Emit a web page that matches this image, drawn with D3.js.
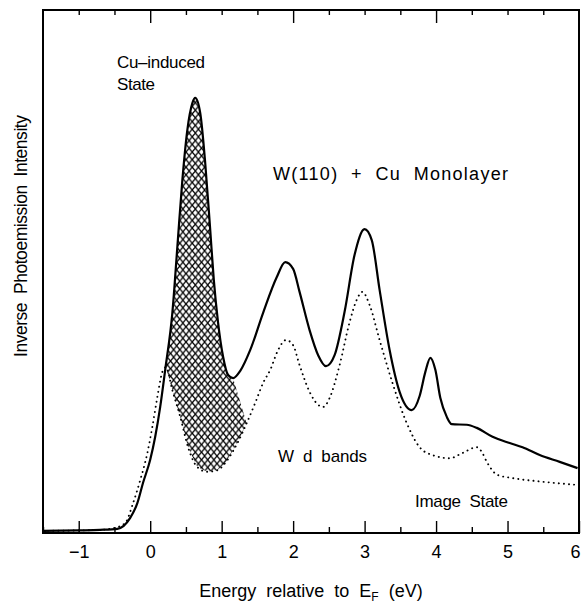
<!DOCTYPE html>
<html><head><meta charset="utf-8">
<script src="https://cdn.jsdelivr.net/npm/d3@7"></script>
<style>
body{margin:0;background:#fff}
text{font-family:"Liberation Sans",Arial,sans-serif;fill:#000;white-space:pre}
</style></head>
<body><svg id="c" width="582" height="603"></svg>
<script>
// Cu monolayer spectrum (solid)
const solidE = [-1.5,-1.0,-0.70,-0.46,-0.28,-0.18,-0.10,0.00,0.07,0.14,0.21,0.31,0.38,0.45,0.52,0.59,0.63,0.70,0.77,0.84,0.89,0.95,1.02,1.09,1.16,1.26,1.40,1.58,1.77,1.89,2.00,2.09,2.23,2.35,2.46,2.58,2.72,2.86,3.00,3.10,3.21,3.35,3.49,3.66,3.77,3.85,3.92,3.99,4.06,4.15,4.22,4.43,4.57,4.79,5.03,5.21,5.45,5.73,5.98];
const solidI = [0.4,0.5,0.6,0.8,2.9,5.7,9.6,14.0,18.4,24.1,31.2,42.1,54.7,67.5,77.1,82.2,83.2,80.3,70.7,57.9,48.4,40.2,33.7,30.2,29.6,31.0,35.0,42.1,48.9,51.8,50.5,46.1,38.8,34.0,31.9,34.0,42.3,53.2,58.1,56.0,46.5,35.0,27.0,23.5,26.2,30.8,33.5,31.2,25.8,22.2,20.8,20.7,20.1,18.4,17.2,16.4,14.9,13.6,12.4];
// clean W(110) spectrum (dotted)
const dottedE = [-1.5,-0.70,-0.49,-0.35,-0.24,-0.14,-0.04,0.03,0.10,0.17,0.22,0.31,0.42,0.53,0.66,0.80,0.94,1.05,1.22,1.35,1.47,1.58,1.68,1.79,1.90,2.00,2.09,2.23,2.35,2.42,2.51,2.65,2.79,2.89,2.97,3.07,3.21,3.39,3.59,3.77,3.95,4.19,4.37,4.57,4.64,4.71,4.86,5.07,5.49,5.98];
const dottedI = [0.4,0.6,1.0,1.9,5.7,10.1,15.3,20.3,26.0,30.8,31.7,27.3,22.2,16.4,12.6,11.7,12.0,13.4,17.2,21.0,24.9,28.7,31.2,35.0,36.9,35.9,32.1,27.0,24.5,24.1,25.8,32.1,40.3,44.6,46.1,43.6,36.9,28.7,21.0,16.4,14.9,14.3,15.3,16.4,15.5,13.6,11.1,10.5,9.8,9.2];
// hatched Cu-induced state region
const hatchSolidRange = [0.21, 1.16];
const hatchDottedRange = [0.22, 1.35];
const majorTicks = [-1,0,1,2,3,4,5,6];
const minorTicks = [-1.5,-0.5,0.5,1.5,2.5,3.5,4.5,5.5];
const topMajorTicks = [0,2,4];
const topMinorTicks = [-1,-0.5,0.5,1,1.5,2.5,3,3.5,4.5,5,5.5];
const tickLabels = ["\u22121","0","1","2","3","4","5","6"];

const svg = d3.select("#c");
const x = d3.scaleLinear().domain([-1.5,6]).range([43,579]);
const y = d3.scaleLinear().domain([0,100]).range([533,10]);

const defs = svg.append("defs");
const pat = defs.append("pattern").attr("id","hatch").attr("patternUnits","userSpaceOnUse")
  .attr("width",6.2).attr("height",7.6);
pat.append("path").attr("d","M-3.1,-3.8L9.3,11.4M9.3,-3.8L-3.1,11.4")
  .attr("stroke","#000").attr("stroke-width",1.35).attr("fill","none");

const solid = solidE.map((e,i)=>[e,solidI[i]]);
const dotted = dottedE.map((e,i)=>[e,dottedI[i]]);
const line = d3.line().x(d=>x(d[0])).y(d=>y(d[1])).curve(d3.curveMonotoneX);

// hatch polygon
const hs = solid.filter(d=>d[0]>=hatchSolidRange[0]&&d[0]<=hatchSolidRange[1]);
const hd = dotted.filter(d=>d[0]>=hatchDottedRange[0]&&d[0]<=hatchDottedRange[1]).reverse();
const hatchPath = line(hs) + hd.map(d=>"L"+x(d[0])+","+y(d[1])).join("") + "Z";
svg.append("path").attr("d",hatchPath).attr("fill","url(#hatch)").attr("stroke","none");

// curves
svg.append("path").attr("d",line(dotted)).attr("fill","none").attr("stroke","#000")
  .attr("stroke-width",1.9).attr("stroke-linecap","round").attr("stroke-dasharray","0.1 5");
svg.append("path").attr("d",line(solid)).attr("fill","none").attr("stroke","#000")
  .attr("stroke-width",2.2).attr("stroke-linejoin","round");

// axes
const gB = svg.append("g").attr("transform","translate(0,533)");
gB.call(d3.axisBottom(x).tickValues(majorTicks).tickSize(-12).tickPadding(12)
  .tickFormat((d,i)=>tickLabels[i]));
gB.append("g").call(d3.axisBottom(x).tickValues(minorTicks).tickSize(-6).tickFormat(""));
const gT = svg.append("g").attr("transform","translate(0,10)");
gT.call(d3.axisTop(x).tickValues(topMajorTicks).tickSize(-13).tickFormat(""));
gT.append("g").call(d3.axisTop(x).tickValues(topMinorTicks).tickSize(-5).tickFormat(""));
svg.selectAll(".domain").remove();
svg.selectAll(".tick line").attr("stroke","#000").attr("stroke-width",1.4);
gB.selectAll(".tick text").attr("font-size",18).attr("font-family","Liberation Sans, Arial, sans-serif")
  .attr("dx",d=>d===6?-4:0);

// frame
svg.append("rect").attr("x",43).attr("y",10).attr("width",536).attr("height",523)
  .attr("fill","none").attr("stroke","#000").attr("stroke-width",2);

// labels
const lab = (t,xx,yy,fs,len,anchor)=>{
  const s = svg.append("text").attr("x",xx).attr("y",yy).attr("font-size",fs)
    .attr("text-anchor",anchor||"start").text(t);
  if(len) s.attr("textLength",len).attr("lengthAdjust","spacing");
  return s;
};
lab("Cu\u2013induced",117,68,17,88);
lab("State",117,90,17,38);
lab("W(110)  +  Cu  Monolayer",273,180,18,235);
lab("W  d  bands",278,462,17,89);
lab("Image  State",415,507,17,93);
const xt = svg.append("text").attr("x",311).attr("y",597).attr("font-size",18).attr("text-anchor","middle");
xt.append("tspan").text("Energy  relative  to  E");
xt.append("tspan").attr("font-size",12).attr("dy",4).text("F");
xt.append("tspan").attr("dy",-4).text("  (eV)");
svg.append("text").attr("transform","translate(27,236) rotate(-90)").attr("font-size",17.5)
  .attr("text-anchor","middle").attr("textLength",242).attr("lengthAdjust","spacing")
  .text("Inverse  Photoemission  Intensity");
</script></body></html>
